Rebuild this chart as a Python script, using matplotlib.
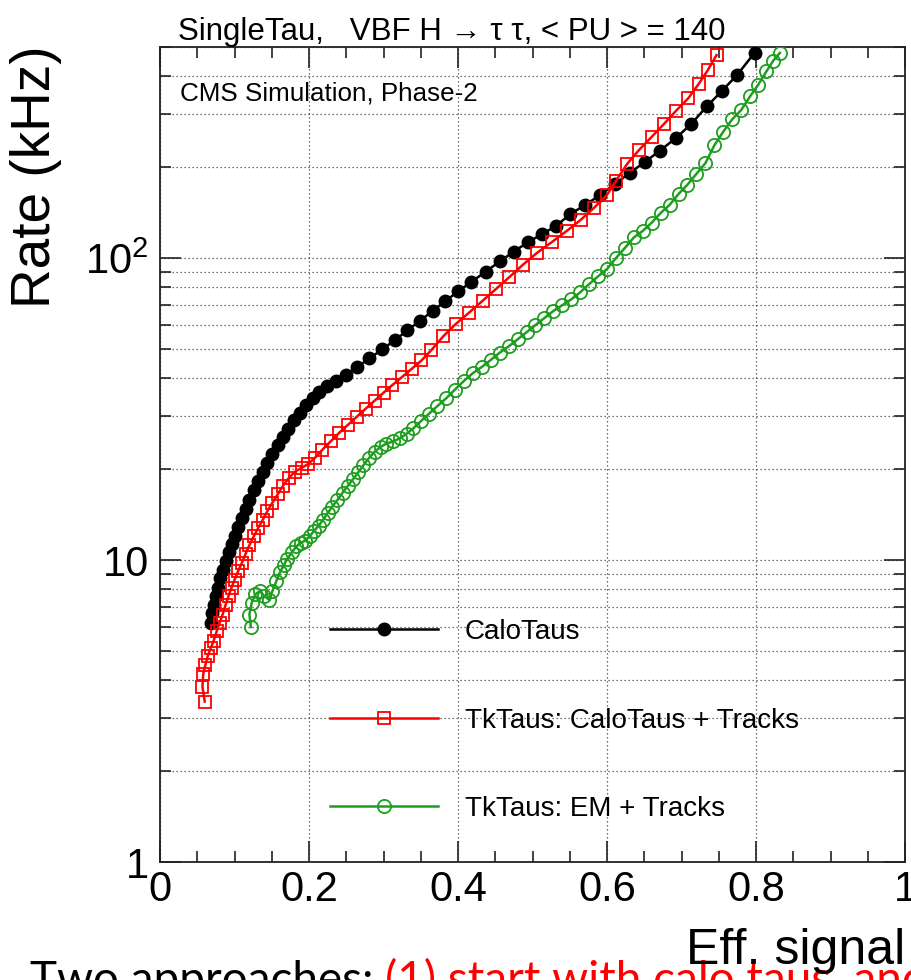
import matplotlib
matplotlib.use('Agg')
import matplotlib.pyplot as plt
from matplotlib.ticker import FixedLocator, LogLocator, NullFormatter, FixedFormatter, MultipleLocator
import numpy as np

plt.rcParams['font.family'] = ['Liberation Sans', 'DejaVu Sans']
plt.rcParams['mathtext.fontset'] = 'custom'
plt.rcParams['mathtext.rm'] = 'Liberation Sans'
plt.rcParams['mathtext.it'] = 'Liberation Sans:italic'
plt.rcParams['mathtext.default'] = 'regular'

# ---------------- data ----------------
calo_eff = [0.068, 0.070, 0.072, 0.075, 0.078, 0.081, 0.084, 0.088, 0.092, 0.096,
            0.100, 0.105, 0.110, 0.115, 0.120, 0.126, 0.132, 0.138, 0.144, 0.151,
            0.158, 0.165, 0.172, 0.180, 0.188, 0.196, 0.205, 0.214, 0.224, 0.236,
            0.250, 0.265, 0.281, 0.298, 0.315, 0.332, 0.349, 0.366, 0.383, 0.400,
            0.418, 0.437, 0.456, 0.475, 0.494, 0.513, 0.532, 0.551, 0.571, 0.591,
            0.611, 0.631, 0.651, 0.671, 0.692, 0.713, 0.734, 0.754, 0.775, 0.798]
calo_rate = [6.2, 6.7, 7.1, 7.6, 8.1, 8.7, 9.3, 9.9, 10.6, 11.3,
             12.0, 12.9, 13.8, 14.8, 15.8, 17.0, 18.3, 19.6, 20.9, 22.4,
             24.0, 25.6, 27.2, 29.0, 30.8, 32.6, 34.4, 36.1, 37.7, 39.2,
             41.0, 43.6, 46.5, 49.8, 53.4, 57.6, 62.0, 66.8, 72.0, 77.5,
             83.5, 90.0, 97.5, 105, 113, 120, 128, 140, 150, 162,
             176, 192, 208, 227, 249, 278, 318, 357, 405, 478]

tkcalo_eff = [0.060, 0.057, 0.058, 0.061, 0.064, 0.068, 0.072, 0.076, 0.080, 0.084,
              0.088, 0.092, 0.096, 0.100, 0.105, 0.110, 0.115, 0.120, 0.126, 0.132,
              0.138, 0.144, 0.151, 0.158, 0.165, 0.173, 0.181, 0.190, 0.199, 0.208,
              0.218, 0.229, 0.240, 0.252, 0.264, 0.276, 0.288, 0.300, 0.312, 0.325,
              0.338, 0.351, 0.364, 0.380, 0.397, 0.415, 0.433, 0.451, 0.469, 0.487,
              0.506, 0.526, 0.546, 0.565, 0.583, 0.600, 0.612, 0.627, 0.643, 0.660,
              0.677, 0.693, 0.709, 0.723, 0.735, 0.747]
tkcalo_rate = [3.4, 3.8, 4.2, 4.5, 4.8, 5.1, 5.4, 5.8, 6.2, 6.6,
               7.1, 7.6, 8.1, 8.6, 9.2, 9.8, 10.5, 11.2, 12.0, 12.8,
               13.6, 14.5, 15.5, 16.5, 17.6, 18.7, 19.6, 20.2, 20.8, 21.8,
               23.2, 24.7, 26.3, 28.0, 29.8, 31.7, 33.7, 35.8, 38.0, 40.4,
               43.0, 45.8, 49.5, 55.0, 60.5, 66.0, 72.2, 79.0, 86.5, 95.0,
               104, 113, 123, 134, 147, 162, 180, 205, 228, 252,
               279, 308, 338, 377, 418, 470]

tkem_eff = [0.122, 0.120, 0.123, 0.128, 0.134, 0.140, 0.146, 0.151, 0.156, 0.161,
            0.166, 0.171, 0.177, 0.183, 0.189, 0.195, 0.201, 0.207, 0.213, 0.219,
            0.225, 0.231, 0.238, 0.245, 0.252, 0.259, 0.266, 0.273, 0.280, 0.288,
            0.296, 0.304, 0.313, 0.322, 0.331, 0.340, 0.350, 0.361, 0.372, 0.384,
            0.396, 0.408, 0.420, 0.432, 0.444, 0.456, 0.468, 0.480, 0.492, 0.504,
            0.516, 0.528, 0.540, 0.552, 0.564, 0.576, 0.588, 0.600, 0.612, 0.624,
            0.636, 0.648, 0.660, 0.672, 0.684, 0.696, 0.708, 0.720, 0.732, 0.744,
            0.756, 0.768, 0.780, 0.792, 0.803, 0.814, 0.823, 0.832]
tkem_rate = [6.0, 6.6, 7.2, 7.7, 7.9, 7.6, 7.4, 7.9, 8.5, 9.1,
             9.6, 10.1, 10.6, 11.1, 11.4, 11.6, 12.0, 12.5, 13.0, 13.6,
             14.3, 15.0, 15.8, 16.7, 17.6, 18.5, 19.5, 20.6, 21.7, 22.8,
             23.7, 24.3, 24.7, 25.3, 26.2, 27.3, 28.8, 30.5, 32.3, 34.3,
             36.7, 39.2, 41.6, 43.6, 46.0, 48.6, 51.0, 53.8, 56.8, 60.0,
             63.3, 66.8, 69.8, 73.0, 77.0, 82.0, 87.0, 92.0, 100, 108,
             117, 123, 131, 141, 150, 163, 175, 190, 206, 236,
             262, 288, 309, 343, 375, 415, 450, 478]

series_labels = ['CaloTaus', 'TkTaus: CaloTaus + Tracks', 'TkTaus: EM + Tracks']
x_ticks = [0, 0.2, 0.4, 0.6, 0.8, 1.0]
x_ticklabels = ['0', '0.2', '0.4', '0.6', '0.8', '1']
y_ticks = [1, 10, 100]
y_ticklabels = ['1', '10', r'$10^{2}$']

GREEN = '#1e9e1e'

# ---------------- figure ----------------
W, H = 911, 980
fig = plt.figure(figsize=(W / 100, H / 100), dpi=100)
L, R, T, B = 160, 905, 47, 862
ax = fig.add_axes([L / W, 1 - B / H, (R - L) / W, (B - T) / H])

ax.plot(calo_eff, calo_rate, color='black', lw=1.8, marker='o', ms=9,
        mfc='black', mec='black', label=series_labels[0], zorder=3)
ax.plot(tkcalo_eff, tkcalo_rate, color='red', lw=1.8, marker='s', ms=8.5,
        mfc='none', mec='red', mew=1.3, label=series_labels[1], zorder=4)
ax.plot(tkem_eff, tkem_rate, color=GREEN, lw=1.8, marker='o', ms=9.5,
        mfc='none', mec=GREEN, mew=1.3, label=series_labels[2], zorder=5)

ax.set_yscale('log')
ax.set_xlim(0, 1)
ax.set_ylim(1, 500)

ax.xaxis.set_major_locator(FixedLocator(x_ticks))
ax.xaxis.set_major_formatter(FixedFormatter(x_ticklabels))
ax.xaxis.set_minor_locator(MultipleLocator(0.05))
ax.yaxis.set_major_locator(FixedLocator(y_ticks))
ax.yaxis.set_major_formatter(FixedFormatter(y_ticklabels))
ax.yaxis.set_minor_locator(LogLocator(base=10, subs=np.arange(2, 10)))
ax.yaxis.set_minor_formatter(NullFormatter())

ax.tick_params(which='both', direction='in', top=True, right=True,
               labelsize=30, color='#222222')
ax.tick_params(which='major', length=15, width=1.2)
ax.tick_params(which='minor', length=8, width=1.2)
ax.tick_params(axis='x', pad=6)
ax.tick_params(axis='y', pad=8)

for s in ax.spines.values():
    s.set_linewidth(1.3)
    s.set_color('#222222')

grid_kw = dict(linestyle=(0, (1, 2.2)), color='#444444', linewidth=0.9)
ax.grid(True, which='both', axis='y', **grid_kw)
ax.grid(True, which='major', axis='x', **grid_kw)
ax.set_axisbelow(True)

leg = ax.legend(loc='upper left', bbox_to_anchor=(0.228, 0.298), frameon=False,
                fontsize=20, handlelength=3.9, handletextpad=0.95,
                labelspacing=2.25, numpoints=1, borderpad=0, borderaxespad=0)

# texts
fig.text(178 / W, 1 - 40 / H, 'SingleTau,   VBF H \u2192 \u03c4 \u03c4, < PU > = 140',
         fontsize=22.5, ha='left', va='baseline')
fig.text(180 / W, 1 - 100 / H, 'CMS Simulation, Phase-2', fontsize=18.7,
         ha='left', va='baseline')
fig.text(36 / W, 1 - 45 / H, 'Rate (kHz)', fontsize=39.5, rotation=90,
         ha='center', va='top')

t1 = fig.text(30 / W, 1 - 994 / H, 'Two approaches: ', fontsize=33,
              family=['Lato', 'DejaVu Sans'], color='black', ha='left', va='baseline')
ann = ax.annotate('(1) start with calo taus, and add tracks', xy=(1, 0), xycoords=t1,
                  ha='left', va='bottom', fontsize=33, family=['Lato', 'DejaVu Sans'],
                  color='red', annotation_clip=False)

fig.text(905 / W, 1 - 964 / H, 'Eff. signal', fontsize=36, ha='right', va='baseline')

fig.savefig('out.png', dpi=100)
